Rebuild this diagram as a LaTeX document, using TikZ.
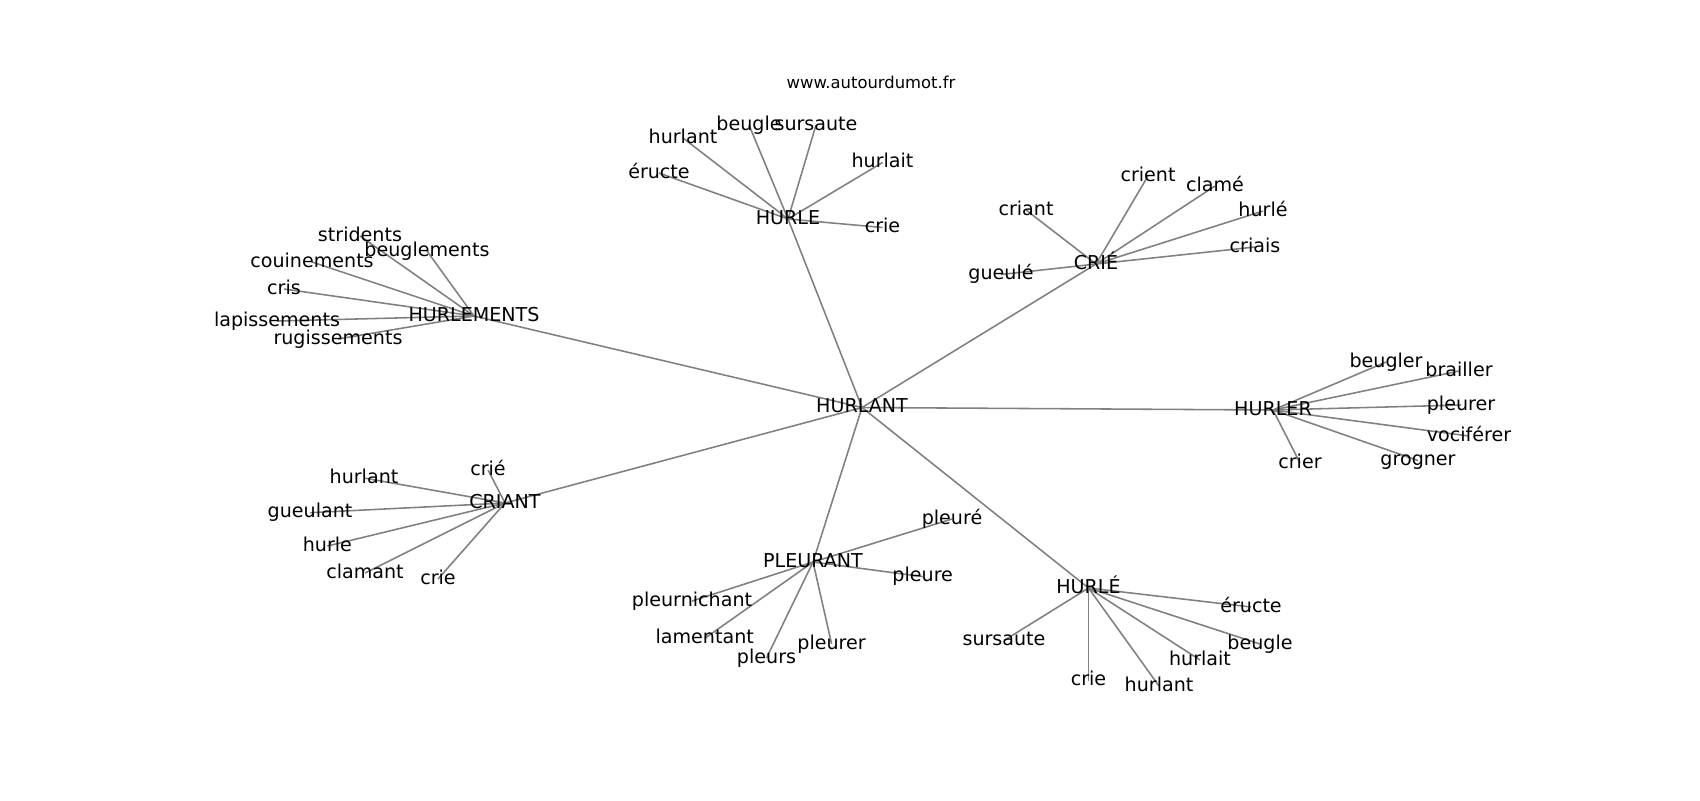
\documentclass[tikz,border=0pt]{standalone}
\usepackage{fontspec}
\setmainfont{DejaVu Sans}
\usetikzlibrary{backgrounds}
\tikzset{
  lbl/.style={inner sep=0pt, outer sep=0pt, text height=0.76em, text depth=0.24em,
              yshift=-1pt, font=\fontsize{9.55}{11}\selectfont, text=black},
  ttl/.style={inner sep=0pt, font=\fontsize{8.2}{10}\selectfont, text=black},
  edge/.style={draw=gray, line width=0.78pt}
}
\begin{document}
\begin{tikzpicture}[x=0.5pt,y=-0.5pt]
\useasboundingbox (0,0) rectangle (1700,800);
\node[ttl] (title) at (871,82.7) {www.autourdumot.fr};
% hubs
\node[lbl] (HA) at (862,405.5) {HURLANT};
\node[lbl] (HE) at (788,217) {HURLE};
\node[lbl] (HM) at (474,314) {HURLEMENTS};
\node[lbl] (CE) at (1096,262) {CRIÉ};
\node[lbl] (HR) at (1273,408) {HURLER};
\node[lbl] (CT) at (505,501) {CRIANT};
\node[lbl] (PL) at (813,560) {PLEURANT};
\node[lbl] (HL) at (1088.5,586) {HURLÉ};
% HURLE leaves
\node[lbl] (a1) at (683,136) {hurlant};
\node[lbl] (a2) at (749,123) {beugle};
\node[lbl] (a3) at (816,123) {sursaute};
\node[lbl] (a4) at (882.5,160.5) {hurlait};
\node[lbl] (a5) at (659,171) {éructe};
\node[lbl] (a6) at (882.5,225.5) {crie};
% HURLEMENTS leaves
\node[lbl] (b1) at (360,234) {stridents};
\node[lbl] (b2) at (427,249) {beuglements};
\node[lbl] (b3) at (312,260) {couinements};
\node[lbl] (b4) at (284,287) {cris};
\node[lbl] (b5) at (277,319) {lapissements};
\node[lbl] (b6) at (338,337) {rugissements};
% CRIÉ leaves
\node[lbl] (c1) at (1148,174) {crient};
\node[lbl] (c2) at (1215,184) {clamé};
\node[lbl] (c3) at (1026,208) {criant};
\node[lbl] (c4) at (1263,209) {hurlé};
\node[lbl] (c5) at (1255,245) {criais};
\node[lbl] (c6) at (1001,272.5) {gueulé};
% HURLER leaves
\node[lbl] (d1) at (1386,360) {beugler};
\node[lbl] (d2) at (1459,369) {brailler};
\node[lbl] (d3) at (1461,403) {pleurer};
\node[lbl] (d4) at (1469,434) {vociférer};
\node[lbl] (d5) at (1300,461) {crier};
\node[lbl] (d6) at (1418,458.5) {grogner};
% CRIANT leaves
\node[lbl] (e1) at (488,468) {crié};
\node[lbl] (e2) at (364,476) {hurlant};
\node[lbl] (e3) at (310,510.7) {gueulant};
\node[lbl] (e4) at (327.4,544) {hurle};
\node[lbl] (e5) at (365,571) {clamant};
\node[lbl] (e6) at (438,577) {crie};
% PLEURANT leaves
\node[lbl] (f1) at (952,517) {pleuré};
\node[lbl] (f2) at (922.7,574.6) {pleure};
\node[lbl] (f3) at (692,599) {pleurnichant};
\node[lbl] (f4) at (704.7,636.4) {lamentant};
\node[lbl] (f5) at (766.5,656) {pleurs};
\node[lbl] (f6) at (831.6,641.8) {pleurer};
% HURLÉ leaves
\node[lbl] (g1) at (1251,605) {éructe};
\node[lbl] (g2) at (1260,642) {beugle};
\node[lbl] (g3) at (1004,638.5) {sursaute};
\node[lbl] (g4) at (1200,658) {hurlait};
\node[lbl] (g5) at (1088.5,678.7) {crie};
\node[lbl] (g6) at (1159,684) {hurlant};
\begin{pgfonlayer}{background}
\fill[white] (0,0) rectangle (1700,800);
\foreach \h in {HE,HM,CE,HR,CT,PL,HL} \draw[edge] (HA.center) -- (\h.center);
\foreach \l in {a1,a2,a3,a4,a5,a6} \draw[edge] (HE.center) -- (\l.center);
\foreach \l in {b1,b2,b3,b4,b5,b6} \draw[edge] (HM.center) -- (\l.center);
\foreach \l in {c1,c2,c3,c4,c5,c6} \draw[edge] (CE.center) -- (\l.center);
\foreach \l in {d1,d2,d3,d4,d5,d6} \draw[edge] (HR.center) -- (\l.center);
\foreach \l in {e1,e2,e3,e4,e5,e6} \draw[edge] (CT.center) -- (\l.center);
\foreach \l in {f1,f2,f3,f4,f5,f6} \draw[edge] (PL.center) -- (\l.center);
\foreach \l in {g1,g2,g3,g4,g5,g6} \draw[edge] (HL.center) -- (\l.center);
\end{pgfonlayer}
\end{tikzpicture}
\end{document}
